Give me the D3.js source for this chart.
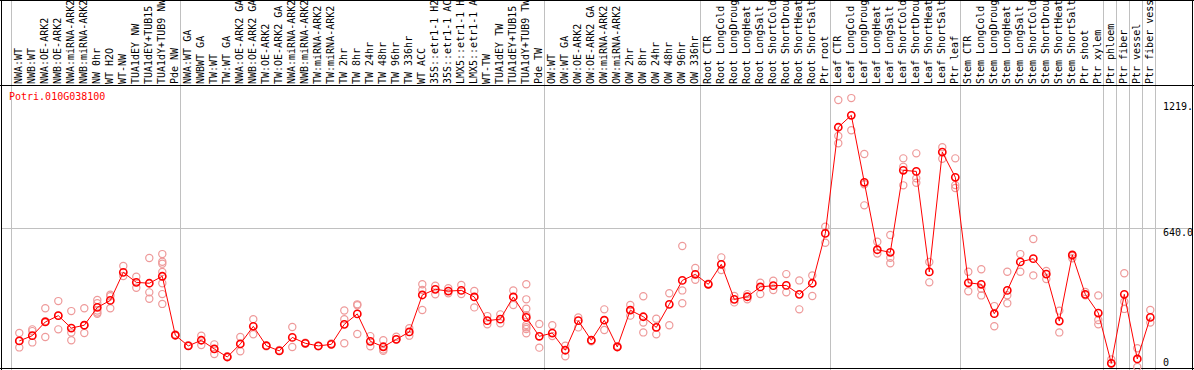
<!DOCTYPE html>
<html>
<head>
<meta charset="utf-8">
<script src="https://cdn.jsdelivr.net/npm/d3@7"></script>
<style>
  body { margin: 0; background: #fff; }
  svg { display: block; }
  text { font-family: "DejaVu Sans Mono", monospace; font-size: 10px; }
</style>
</head>
<body>
<svg width="1194" height="370"></svg>
<script>
const geneName = 'Potri.010G038100';

const samples = [
  'NWA:WT', 'NWB:WT', 'NWA:OE-ARK2', 'NWB:OE-ARK2', 'NWA:miRNA-ARK2', 'NWB:miRNA-ARK2',
  'NW 0hr', 'WT H2O', 'WT-NW', 'TUA1dEY NW', 'TUA1dEY+TUB15', 'TUA1dY+TUB9 NW', 'Pde NW',
  'NWA:WT GA', 'NWBWT GA', 'TW:WT', 'TW:WT GA', 'NWA:OE-ARK2 GA', 'NWB:OE-ARK2 GA',
  'TW:OE-ARK2', 'TW:OE-ARK2 GA', 'NWA:miRNA-ARK2', 'NWB:miRNA-ARK2', 'TW:miRNA-ARK2',
  'TW:miRNA-ARK2', 'TW 2hr', 'TW 8hr', 'TW 24hr', 'TW 48hr', 'TW 96hr', 'TW 336hr',
  'WT ACC', '35S::etr1-1 H2', '35S::etr1-1 AC', 'LMX5::etr1-1 H', 'LMX5::etr1-1 A',
  'WT-TW', 'TUA1dEY TW', 'TUA1dEY+TUB15', 'TUA1dY+TUB9 TW', 'Pde TW',
  'OW:WT', 'OW:WT GA', 'OW:OE-ARK2', 'OW:OE-ARK2 GA', 'OW:miRNA-ARK2', 'OW:miRNA-ARK2',
  'OW 2hr', 'OW 8hr', 'OW 24hr', 'OW 48hr', 'OW 96hr', 'OW 336hr',
  'Root CTR', 'Root LongCold', 'Root LongDroug', 'Root LongHeat', 'Root LongSalt',
  'Root ShortCold', 'Root ShortDrou', 'Root ShortHeat', 'Root ShortSalt', 'Ptr root',
  'Leaf CTR', 'Leaf LongCold', 'Leaf LongDroug', 'Leaf LongHeat', 'Leaf LongSalt',
  'Leaf ShortCold', 'Leaf ShortDrou', 'Leaf ShortHeat', 'Leaf ShortSalt', 'Ptr leaf',
  'Stem CTR', 'Stem LongCold', 'Stem LongDroug', 'Stem LongHeat', 'Stem LongSalt',
  'Stem ShortCold', 'Stem ShortDrou', 'Stem ShortHeat', 'Stem ShortSalt', 'Ptr shoot',
  'Ptr xylem', 'Ptr phloem', 'Ptr fiber', 'Ptr vessel', 'Ptr fiber vess'
];

// number of samples in each separated block
const groupSizes = [13, 28, 12, 10, 10, 11, 1, 1, 1, 1];

const means = [
  120, 144, 207, 236, 179, 192, 274, 306, 435, 389, 385, 417, 146,
  97, 123, 83, 46, 106, 187, 98, 74, 136, 109, 97, 104, 196, 244, 118, 93, 127, 161,
  331, 357, 349, 352, 322, 213, 220, 322, 228, 141,
  156, 77, 213, 123, 215, 92, 261, 231, 182, 288, 398, 426,
  380, 472, 311, 323, 368, 374, 375, 334, 385, 614,
  1102, 1157, 849, 539, 527, 904, 899, 437, 988, 872,
  387, 380, 245, 352, 483, 498, 427, 211, 515, 334, 248,
  17, 334, 37, 228
];

const replicates = [
  [156, 90, 120], [173, 165, 113], [270, 138, 210], [303, 173, 236], [257, 159, 123],
  [270, 156, 192], [308, 293, 260, 245, 250], [332, 325, 270], [464, 418], [415, 364],
  [501, 343, 314], [519, 484, 475, 437, 385, 335, 290], [146, 150],
  [97, 100], [144, 101], [104, 60], [46, 50], [138, 72], [220, 150], [98, 95], [74, 78],
  [184, 92], [109, 112], [97, 95], [104, 108], [260, 220, 109], [288, 284, 152],
  [142, 95], [123, 74, 80], [139, 127], [178, 144],
  [380, 354, 262], [374, 334], [362, 339], [377, 335], [349, 274], [234, 196], [242, 201],
  [352, 285], [380, 311, 268, 238, 193, 183, 175, 155], [198, 89],
  [192, 142], [98, 49], [228, 182], [123, 118], [265, 170], [92, 96], [285, 236],
  [325, 204, 159], [222, 150], [339, 192], [556, 352, 293], [455, 401],
  [380, 383], [504, 446], [326, 297], [335, 311], [387, 335], [397, 354], [427, 343],
  [398, 265], [421, 326], [645, 571],
  [1227, 1062, 1028], [1236, 1088], [979, 840, 743], [576, 522], [607, 502, 477],
  [959, 920, 835], [982, 867, 847], [483, 389], [1010, 957], [959, 836, 823],
  [438, 348], [449, 329, 360], [280, 187], [438, 293, 330], [519, 438], [588, 421],
  [441, 404], [259, 159], [500, 510], [345, 330], [329, 216, 196],
  [35, 17], [431, 300, 267], [86, 0], [262, 204]
];

const yTicks = [
  { value: 1219.4, label: '1219.' },
  { value: 640, label: '640.0' },
  { value: 0, label: '0' }
];
const gridValues = [640];

const svg = d3.select('svg');
const width = 1194, height = 370;
const headerBottom = 85, plotBottom = 368;

const x = d3.scaleLinear()
  .domain([0, samples.length - 1])
  .range([19.3, 1150.3]);

const y = d3.scaleLinear()
  .domain([0, 1219.4])
  .range([367, 101.7]);

// block separators sit just right of the last sample of each block
let ends = [-1];
groupSizes.reduce((acc, n) => { ends.push(acc + n - 1); return acc + n; }, 0);

svg.selectAll('line.sep')
  .data(ends)
  .enter()
  .append('line')
    .attr('class', 'sep')
    .attr('x1', d => Math.round(x(d) + 5) + 0.5)
    .attr('x2', d => Math.round(x(d) + 5) + 0.5)
    .attr('y1', 0)
    .attr('y2', height)
    .attr('stroke', '#c0c0c0');

svg.selectAll('line.grid')
  .data(gridValues)
  .enter()
  .append('line')
    .attr('class', 'grid')
    .attr('x1', 1)
    .attr('x2', width - 1)
    .attr('y1', d => Math.round(y(d)) + 0.5)
    .attr('y2', d => Math.round(y(d)) + 0.5)
    .attr('stroke', '#c0c0c0');

// frame
const frame = [
  [1.5, 0, 1.5, height],
  [width - 1.5, 0, width - 1.5, height],
  [0, 0.5, width, 0.5],
  [0, headerBottom + 0.5, width, headerBottom + 0.5],
  [0, plotBottom + 0.5, width, plotBottom + 0.5]
];
svg.selectAll('line.frame')
  .data(frame)
  .enter()
  .append('line')
    .attr('class', 'frame')
    .attr('x1', d => d[0]).attr('y1', d => d[1])
    .attr('x2', d => d[2]).attr('y2', d => d[3])
    .attr('stroke', '#000');

// rotated sample names
svg.selectAll('text.sample')
  .data(samples)
  .enter()
  .append('text')
    .attr('class', 'sample')
    .attr('transform', (d, i) => `translate(${x(i) + 2.5},84) rotate(-90)`)
    .attr('fill', '#000')
    .text(d => d);

svg.append('text')
  .attr('x', 9)
  .attr('y', 100)
  .attr('fill', '#ff0000')
  .text(geneName);

svg.selectAll('text.ytick')
  .data(yTicks)
  .enter()
  .append('text')
    .attr('class', 'ytick')
    .attr('x', 1163)
    .attr('y', d => Math.min(y(d.value) + 8.5, 365.5))
    .attr('fill', '#000')
    .text(d => d.label);

// replicate points
const reps = [];
replicates.forEach((list, i) => list.forEach(v => reps.push({ i: i, v: v })));

svg.selectAll('circle.rep')
  .data(reps)
  .enter()
  .append('circle')
    .attr('class', 'rep')
    .attr('cx', d => x(d.i))
    .attr('cy', d => y(d.v))
    .attr('r', 3.6)
    .attr('fill', 'none')
    .attr('stroke', '#ee9a9a')
    .attr('stroke-width', 1.2);

const line = d3.line()
  .x((d, i) => x(i))
  .y(d => y(d));

svg.append('path')
  .attr('d', line(means))
  .attr('fill', 'none')
  .attr('stroke', '#ff0000')
  .attr('stroke-width', 1);

svg.selectAll('circle.mean')
  .data(means)
  .enter()
  .append('circle')
    .attr('class', 'mean')
    .attr('cx', (d, i) => x(i))
    .attr('cy', d => y(d))
    .attr('r', 3.6)
    .attr('fill', 'none')
    .attr('stroke', '#ff0000')
    .attr('stroke-width', 1.6);
</script>
</body>
</html>
